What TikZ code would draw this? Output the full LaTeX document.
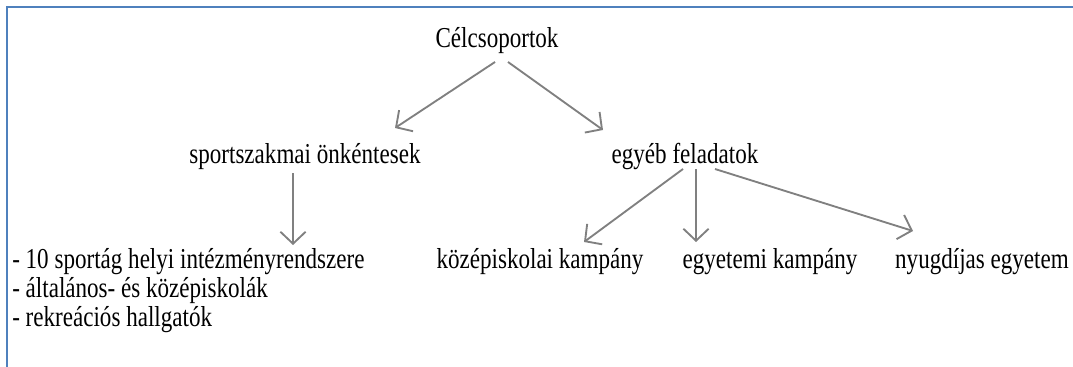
\documentclass[tikz,border=0pt]{standalone}
\usepackage{fontspec}
\setmainfont{Liberation Serif}
\usetikzlibrary{arrows.meta,positioning}
\definecolor{frameblue}{RGB}{79,129,189}
\definecolor{arrowgray}{RGB}{128,128,128}
\newcommand{\tallbox}[1]{\scalebox{1}[1.25]{#1}}
\tikzset{
  lbl/.style={inner sep=0pt,anchor=base,font=\fontsize{17.3}{20}\selectfont},
  arr/.style={draw=arrowgray,line width=1.4pt,
    -{Straight Barb[length=9pt,width=19pt]}}
}

\begin{document}
\begin{tikzpicture}[x=0.75pt,y=-0.75pt]
      \useasboundingbox (0,0) rectangle (1073,367);
      \draw[frameblue,line width=1.6pt] (1073,7) -- (7,7) -- (7,367);
      \node[lbl] (root)  at (497,48)  {\tallbox{Célcsoportok}};
      \node[lbl] (sport) at (305,163) {\tallbox{sportszakmai önkéntesek}};
      \node[lbl] (egyeb) at (685,163) {\tallbox{egyéb feladatok}};
      \node[lbl,anchor=base west] (list1) at (12,268) {\tallbox{- 10 sportág helyi intézményrendszere}};
      \node[lbl,anchor=base west] (list2) at ([shift={(0,29)}]list1.base west) {\tallbox{- általános- és középiskolák}};
      \node[lbl,anchor=base west] (list3) at ([shift={(0,29)}]list2.base west) {\tallbox{- rekreációs hallgatók}};
      \node[lbl] (kozep) at (540,268) {\tallbox{középiskolai kampány}};
      \node[lbl] (egyet) at (770,268) {\tallbox{egyetemi kampány}};
      \node[lbl] (nyugd) at (982,268) {\tallbox{nyugdíjas egyetem}};
      \path ([shift={(-2,14)}]root.base) edge[arr] ([shift={(90,-35)}]sport.base)
      ([shift={(11,14)}]root.base) edge[arr] ([shift={(-82,-33)}]egyeb.base)
      ([shift={(-12,10)}]sport.base) edge[arr] ([shift={(281,-23)}]list1.base west)
      ([shift={(-2,6)}]egyeb.base) edge[arr] ([shift={(44,-26)}]kozep.base)
      ([shift={(11,6)}]egyeb.base) edge[arr] ([shift={(-74,-26)}]egyet.base)
      ([shift={(30,6)}]egyeb.base) edge[arr] ([shift={(-69,-37)}]nyugd.base);
    \end{tikzpicture}
\end{document}
